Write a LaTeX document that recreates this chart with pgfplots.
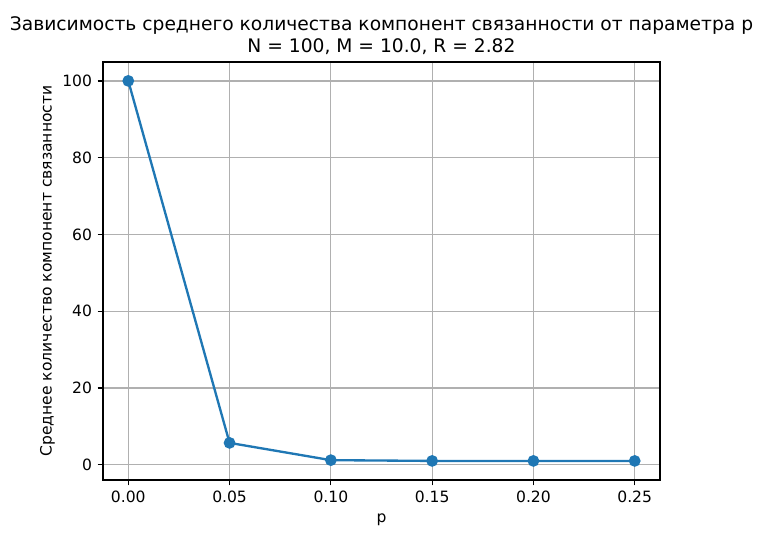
\documentclass[border=0pt]{standalone}
\usepackage{pgfplots}
\pgfplotsset{compat=1.18}
\usepackage{fontspec}
\setmainfont{DejaVu Sans}
\definecolor{tabblue}{HTML}{1F77B4}
\definecolor{gridgray}{HTML}{B0B0B0}
\begin{document}
\begin{tikzpicture}[x=1pt,y=1pt]
\path[use as bounding box] (0,0) rectangle (491.9,344.0);
\begin{axis}[
  at={(66.2pt,35.4pt)}, anchor=south west,
  scale only axis, width=358.2pt, height=268.8pt,
  xmin=-0.0125, xmax=0.2625, ymin=-3.95, ymax=104.95,
  xtick={0,0.05,0.10,0.15,0.20,0.25},
  ytick={0,20,40,60,80,100},
  xticklabel style={/pgf/number format/.cd,fixed,fixed zerofill,precision=2},
  /pgf/number format/assume math mode=true,
  scaled x ticks=false,
  tick align=outside, tick pos=left,
  major tick length=3.5pt,
  every tick/.style={black, line width=0.8pt},
  axis line style={line width=0.8pt},
  grid=major,
  major grid style={gridgray, line width=0.8pt},
  ticklabel style={font=\fontsize{10}{12}\selectfont},
  xlabel={p}, ylabel={Среднее количество компонент связанности},
  ylabel style={yshift=-2pt},
  label style={font=\fontsize{10}{12}\selectfont},
  title={Зависимость среднего количества компонент связанности от параметра p\\N = 100, M = 10.0, R = 2.82},
  title style={font=\fontsize{12}{14.5}\selectfont, align=center, yshift=-5pt},
]
\addplot[tabblue, line width=1.5pt, mark=*, mark size=3pt, mark options={fill=tabblue, draw=tabblue}] coordinates {
(0.00,100.0) (0.05,5.7) (0.10,1.2) (0.15,1.0) (0.20,1.0) (0.25,1.0)
};
\end{axis}
\end{tikzpicture}
\end{document}
